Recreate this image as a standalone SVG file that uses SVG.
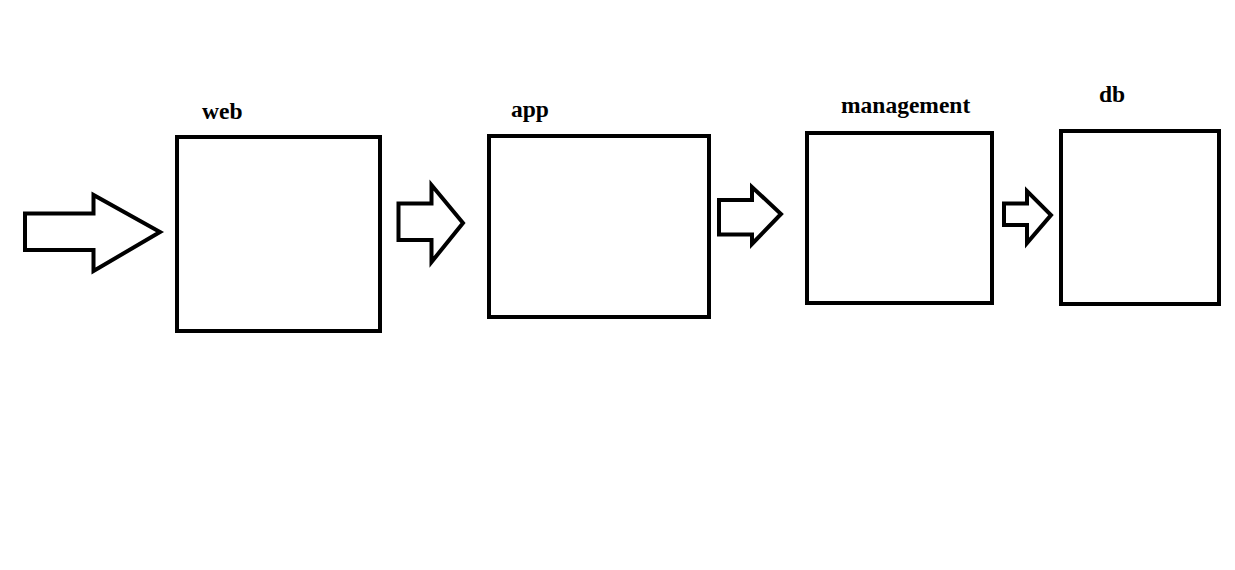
<svg xmlns="http://www.w3.org/2000/svg" width="1235" height="570" viewBox="0 0 1235 570">
<style>
.box{fill:#fff;stroke:#000;stroke-width:4}
.arr{fill:#fff;stroke:#000;stroke-width:4;stroke-linejoin:miter}
.lbl{font-family:"Liberation Serif","Times New Roman",serif;font-weight:bold;font-size:23.5px;fill:#000}
</style>
<rect width="1235" height="570" fill="#fff"/>
<g id="connectors">
<polygon class="arr" points="25,213.5 93.5,213.5 93.5,195 160,232 93.5,271 93.5,250 25,250"/>
<polygon class="arr" points="398.5,203.5 431.5,203.5 431.5,185 463,223 431.5,262 431.5,240 398.5,240"/>
<polygon class="arr" points="719,200 752,200 752,187 781,214 752,244 752,234.5 719,234.5"/>
<polygon class="arr" points="1004,203.5 1027,203.5 1027,191 1051,215 1027,243 1027,225 1004,225"/>
</g>
<g id="web">
<rect class="box" x="177" y="137" width="203" height="194"/>
<text class="lbl" x="202" y="119">web</text>
</g>
<g id="app">
<rect class="box" x="489" y="136" width="220" height="181"/>
<text class="lbl" x="511" y="117">app</text>
</g>
<g id="management">
<rect class="box" x="807" y="133" width="185" height="170"/>
<text class="lbl" x="841" y="113">management</text>
</g>
<g id="db">
<rect class="box" x="1061" y="131" width="158" height="173"/>
<text class="lbl" x="1099" y="102">db</text>
</g>
</svg>
